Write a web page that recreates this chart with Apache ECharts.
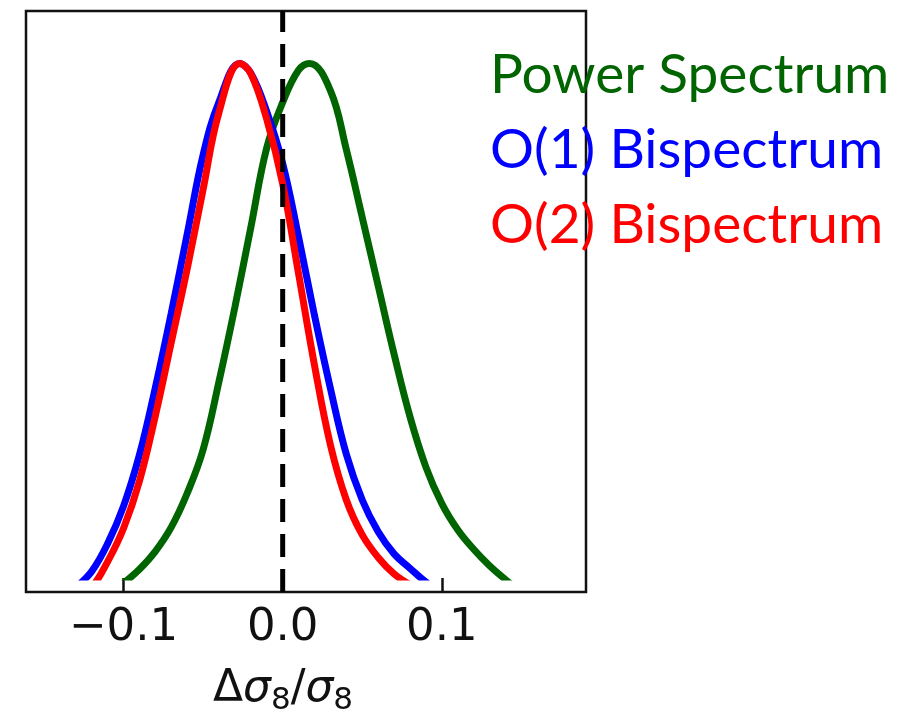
<!DOCTYPE html>
<html>
<head>
<meta charset="utf-8">
<script src="https://cdn.jsdelivr.net/npm/echarts@6/dist/echarts.min.js"></script>
<style>
  html, body { margin: 0; padding: 0; background: #fff; }
  #main { width: 917px; height: 728px; }
</style>
</head>
<body>
<div id="main"></div>
<script>
let myChart = document.getElementById("main");
let initChart = echarts.init(myChart, null, { renderer: "canvas" });

// x = Δσ8/σ8, y = relative height (clip line = 0, peak = 1)
const powerX = [-0.10, -0.09, -0.08, -0.07, -0.06, -0.05, -0.04, -0.03, -0.02, -0.01, 0.00, 0.01, 0.017, 0.03, 0.04, 0.05, 0.06, 0.07, 0.08, 0.09, 0.10, 0.11, 0.12, 0.13, 0.14, 0.15];
const powerY = [-0.012, 0.015, 0.05, 0.097, 0.163, 0.248, 0.381, 0.526, 0.681, 0.836, 0.924, 0.987, 1.0, 0.947, 0.832, 0.70, 0.567, 0.434, 0.312, 0.214, 0.143, 0.092, 0.054, 0.022, -0.005, -0.03];

const bis1X = [-0.14, -0.13, -0.12, -0.11, -0.10, -0.09, -0.08, -0.07, -0.06, -0.05, -0.04, -0.027, -0.02, -0.01, 0.00, 0.01, 0.02, 0.03, 0.04, 0.05, 0.06, 0.07, 0.08, 0.09, 0.10];
const bis1Y = [-0.04, -0.02, 0.011, 0.065, 0.138, 0.238, 0.369, 0.514, 0.668, 0.822, 0.925, 1.0, 0.981, 0.906, 0.805, 0.662, 0.509, 0.367, 0.239, 0.15, 0.088, 0.045, 0.017, -0.01, -0.03];

const bis2X = [-0.13, -0.12, -0.11, -0.10, -0.09, -0.08, -0.07, -0.06, -0.05, -0.04, -0.027, -0.02, -0.01, 0.00, 0.01, 0.02, 0.03, 0.04, 0.05, 0.06, 0.07, 0.08];
const bis2Y = [-0.04, -0.02, 0.03, 0.095, 0.187, 0.314, 0.457, 0.60, 0.755, 0.905, 1.0, 0.98, 0.891, 0.765, 0.59, 0.412, 0.257, 0.15, 0.082, 0.038, 0.006, -0.015];

const tickValues = [-0.1, 0.0, 0.1];
const names = ["Power Spectrum", "O(1) Bispectrum", "O(2) Bispectrum"];
const colors = ["#006400", "#0000ff", "#ff0000"];

const xMin = -0.1613, xMax = 0.1906;

let pairs = (xs, ys) => xs.map((x, i) => [x, ys[i]]);

let fmt = (v) => (v < 0 ? "\u2212" : "") + Math.abs(v).toFixed(1);

let curve = (i, xs, ys) => ({
  name: names[i],
  type: "line",
  xAxisIndex: 0,
  yAxisIndex: 0,
  data: pairs(xs, ys),
  smooth: 0.4,
  showSymbol: false,
  lineStyle: { color: colors[i], width: 7 },
  itemStyle: { color: colors[i] },
  z: 2 + i,
});

let option = {
  animation: false,
  backgroundColor: "#fff",

  grid: [
    // curves
    { left: 26, right: 331, top: 11, bottom: 151 },
    // frame
    { left: 26, right: 331, top: 11, bottom: 136, show: true, borderColor: "#111", borderWidth: 2.5, backgroundColor: "transparent" },
  ],

  legend: {
    orient: "vertical",
    left: 480,
    top: 40,
    icon: "none",
    itemWidth: 0,
    itemHeight: 60,
    itemGap: 15,
    selectedMode: false,
    data: names.map((n, i) => ({
      name: n,
      textStyle: { color: colors[i] },
    })),
    textStyle: { fontFamily: "Lato", fontSize: 55, lineHeight: 60 },
  },

  xAxis: [
    {
      type: "value", gridIndex: 0, min: xMin, max: xMax,
      axisLine: { show: false }, axisTick: { show: false },
      axisLabel: { show: false }, splitLine: { show: false },
    },
    {
      type: "value", gridIndex: 1, min: xMin, max: xMax,
      axisLine: { show: false },
      axisTick: { show: true, inside: true, length: 14, customValues: tickValues, lineStyle: { color: "#111", width: 2.5 } },
      axisLabel: {
        customValues: tickValues, formatter: fmt, margin: 14,
        fontFamily: "DejaVu Sans", fontSize: 45, color: "#111",
      },
      splitLine: { show: false },
      name: "{a|\u0394}{i|\u03c3}{s|8}{a|/}{i|\u03c3}{s|8}",
      nameLocation: "middle",
      nameGap: 72,
      nameTextStyle: {
        padding: [0, 46, 0, 0],
        rich: {
          a: { fontFamily: "DejaVu Sans", fontSize: 44, color: "#111", lineHeight: 52 },
          i: { fontFamily: "DejaVu Sans", fontStyle: "italic", fontSize: 44, color: "#111", lineHeight: 52 },
          s: { fontFamily: "DejaVu Sans", fontSize: 31, color: "#111", lineHeight: 22, verticalAlign: "bottom" },
        },
      },
    },
  ],

  yAxis: [
    { type: "value", gridIndex: 0, min: 0, max: 1.102, show: false },
    { type: "value", gridIndex: 1, min: 0, max: 1, show: false },
  ],

  series: [
    curve(0, powerX, powerY),
    curve(1, bis1X, bis1Y),
    curve(2, bis2X, bis2Y),
    // zero line
    { type: "line", xAxisIndex: 1, yAxisIndex: 1, data: [[0, 0], [0, 1]], showSymbol: false, silent: true, lineStyle: { color: "#000", width: 5, type: [23, 12] }, z: 6 },
  ],
};

initChart.setOption(option);
</script>
</body>
</html>
